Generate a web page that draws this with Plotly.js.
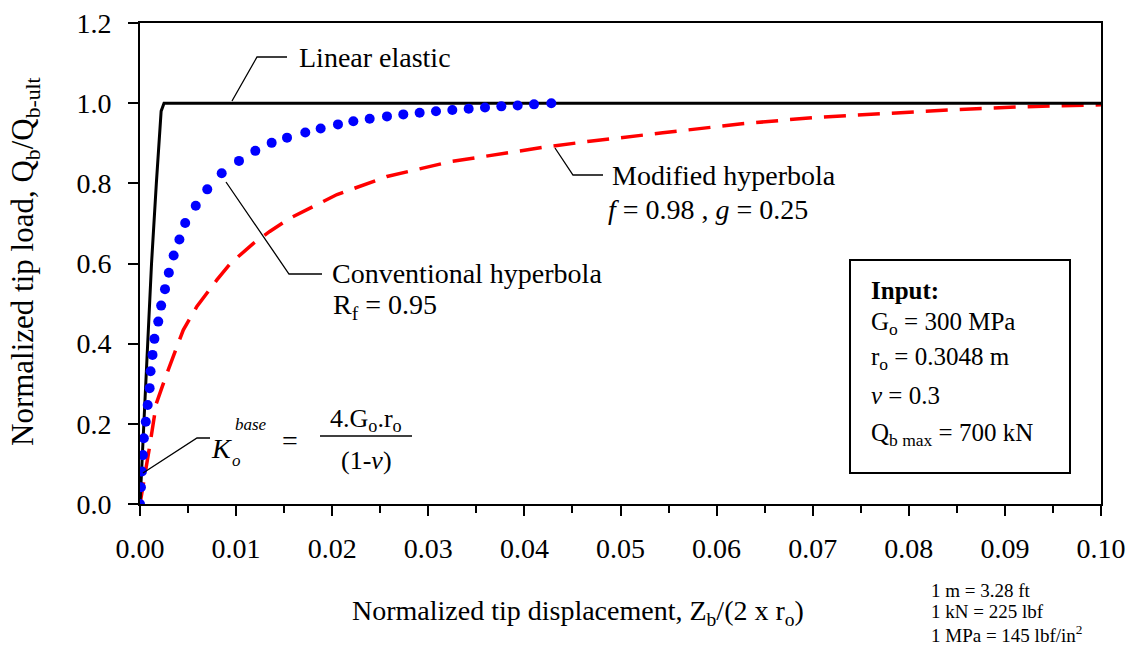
<!DOCTYPE html>
<html>
<head>
<meta charset="utf-8">
<script src="https://cdn.plot.ly/plotly-3.0.1.min.js"></script>
<style>html,body{margin:0;padding:0;background:#fff;}#chart{width:1138px;height:655px;}</style>
</head>
<body>
<div id="chart"></div>
<script>
// ---- data ----
const linearX = [0, 0.0004, 0.0008, 0.0012, 0.0017, 0.0022, 0.0025, 0.100];
const linearY = [0, 0.20, 0.40, 0.60, 0.80, 0.98, 1.00, 1.00];

const convX = [0, 0.0001, 0.0002, 0.0003, 0.0004, 0.0006, 0.0008, 0.0010, 0.0011, 0.0013, 0.0015,
  0.0019, 0.0022, 0.0026, 0.0030, 0.0035, 0.0041, 0.0047, 0.0058, 0.0070, 0.0085,
  0.0103, 0.0120, 0.0137, 0.0153, 0.0172, 0.0188, 0.0206, 0.0222, 0.0239, 0.0257, 0.0274, 0.0291, 0.0308,
  0.0325, 0.0342, 0.0359, 0.0376, 0.0393, 0.0410, 0.0428];
const convY = [0, 0.042, 0.081, 0.122, 0.164, 0.205, 0.247, 0.289, 0.331, 0.372, 0.412,
  0.455, 0.495, 0.536, 0.577, 0.620, 0.660, 0.701, 0.744, 0.785, 0.825,
  0.856, 0.881, 0.901, 0.914, 0.927, 0.937, 0.947, 0.955, 0.961, 0.967, 0.972, 0.976, 0.980,
  0.983, 0.986, 0.989, 0.992, 0.994, 0.997, 1.000];

const modX = [0, 0.0005, 0.0010, 0.0017, 0.0028, 0.0045, 0.0059, 0.0080, 0.0094, 0.0118, 0.0135, 0.0156,
  0.0205, 0.0257, 0.0323, 0.0420, 0.0468, 0.0544, 0.0624, 0.0700, 0.0780, 0.0850, 0.0920, 0.1000];
const modY = [0, 0.070, 0.143, 0.251, 0.326, 0.434, 0.492, 0.559, 0.600, 0.650, 0.680, 0.713,
  0.772, 0.817, 0.854, 0.890, 0.905, 0.926, 0.948, 0.964, 0.975, 0.984, 0.991, 0.996];

const xTickStep = 0.01;
const yTickStep = 0.2;

// ---- helpers: pixel position -> paper coordinates (for text/leader placement only) ----
const PL = 140, PR = 1101, PB = 504, PT = 23;
function px(p) { return (p - PL) / (PR - PL); }
function py(p) { return (PB - p) / (PB - PT); }

const FONT = 'Liberation Serif, Times New Roman, serif';

function ann(text, x, y, size, opts) {
  return Object.assign({
    text: text, x: px(x), y: py(y), xref: 'paper', yref: 'paper',
    xanchor: 'left', yanchor: 'middle', showarrow: false,
    font: { family: FONT, size: size, color: '#000' }
  }, opts || {});
}
function leader(pts) {
  let d = pts.map((p, i) => (i ? 'L' : 'M') + px(p[0]) + ',' + py(p[1])).join(' ');
  return { type: 'path', xref: 'paper', yref: 'paper', path: d, line: { color: '#000', width: 1.3 } };
}

const traces = [
  { x: modX, y: modY, mode: 'lines', name: 'Modified hyperbola',
    line: { color: '#FF0000', width: 3.5, dash: '22px,12px' }, hoverinfo: 'skip' },
  { x: linearX, y: linearY, mode: 'lines', name: 'Linear elastic',
    line: { color: '#000000', width: 3 }, hoverinfo: 'skip' },
  { x: convX, y: convY, mode: 'markers', name: 'Conventional hyperbola',
    marker: { color: '#0000FF', size: 10 }, hoverinfo: 'skip' }
];

const axisCommon = {
  showgrid: false, zeroline: false, showline: true, mirror: true,
  linecolor: '#000', linewidth: 2, ticks: 'outside', ticklen: 10, tickwidth: 2, tickcolor: '#000',
  tickfont: { family: FONT, size: 28, color: '#000' }
};

const layout = {
  width: 1138, height: 655,
  margin: { l: PL, r: 1138 - PR, t: PT, b: 655 - PB },
  paper_bgcolor: '#fff', plot_bgcolor: '#fff',
  showlegend: false,
  xaxis: Object.assign({}, axisCommon, {
    range: [0, 0.1], dtick: xTickStep, tick0: 0, tickformat: '.2f', ticklabelstandoff: 8,
    minor: { dtick: xTickStep / 2, ticks: 'outside', ticklen: 7, tickwidth: 2, tickcolor: '#000', showgrid: false }
  }),
  yaxis: Object.assign({}, axisCommon, {
    range: [0, 1.2], dtick: yTickStep, tick0: 0, tickformat: '.1f', ticklabelstandoff: 11
  }),
  shapes: [
    leader([[232, 101], [257, 57], [287, 57]]),
    leader([[226, 182], [289, 274], [322, 274]]),
    leader([[555, 148], [573, 175], [603, 175]]),
    leader([[143, 473], [197, 438], [210, 438]]),
    { type: 'line', xref: 'paper', yref: 'paper', x0: px(320), x1: px(412), y0: py(436), y1: py(436),
      line: { color: '#000', width: 1.5 } },
    { type: 'rect', xref: 'paper', yref: 'paper', x0: px(850), x1: px(1070), y0: py(473), y1: py(260),
      line: { color: '#000', width: 2 }, fillcolor: '#fff' }
  ],
  annotations: [
    ann('Linear elastic', 297, 57, 28),
    ann('Conventional hyperbola', 330, 273, 28),
    ann('R<sub>f</sub> = 0.95', 331, 306, 28),
    ann('Modified hyperbola', 610, 176, 28),
    ann('<i>f</i> = 0.98 , <i>g</i> = 0.25', 606, 210, 28),
    // K formula
    ann('<i>K</i>', 209, 449, 28),
    ann('<i>base</i>', 233, 425, 17),
    ann('<i>o</i>', 230, 460, 17),
    ann('=', 280, 441, 28),
    ann('4.G<sub>o</sub>.r<sub>o</sub>', 366, 420, 26, { xanchor: 'center' }),
    ann('(1-<i>ν</i>)', 366, 460, 26, { xanchor: 'center' }),
    // Input box
    ann('<b>Input:</b>', 869, 290, 25),
    ann('G<sub>o</sub> = 300 MPa', 869, 323, 25),
    ann('r<sub>o</sub> = 0.3048 m', 869, 358, 25),
    ann('<i>ν</i> = 0.3', 869, 395, 25),
    ann('Q<sub>b max</sub> = 700 kN', 869, 434, 25),
    // Axis titles
    ann('Normalized tip displacement, Z<sub>b</sub>/(2 x r<sub>o</sub>)', 578, 612, 28, { xanchor: 'center' }),
    ann('Normalized tip load, Q<sub>b</sub>/Q<sub>b-ult</sub>', 25, 262, 31, { xanchor: 'center', textangle: -90 }),
    // Unit conversions
    ann('1 m = 3.28 ft', 929, 590, 19),
    ann('1 kN = 225 lbf', 929, 611, 19),
    ann('1 MPa = 145 lbf/in<sup>2</sup>', 929, 634, 19)
  ]
};

Plotly.newPlot('chart', traces, layout, { staticPlot: true, displayModeBar: false });
</script>
</body>
</html>
